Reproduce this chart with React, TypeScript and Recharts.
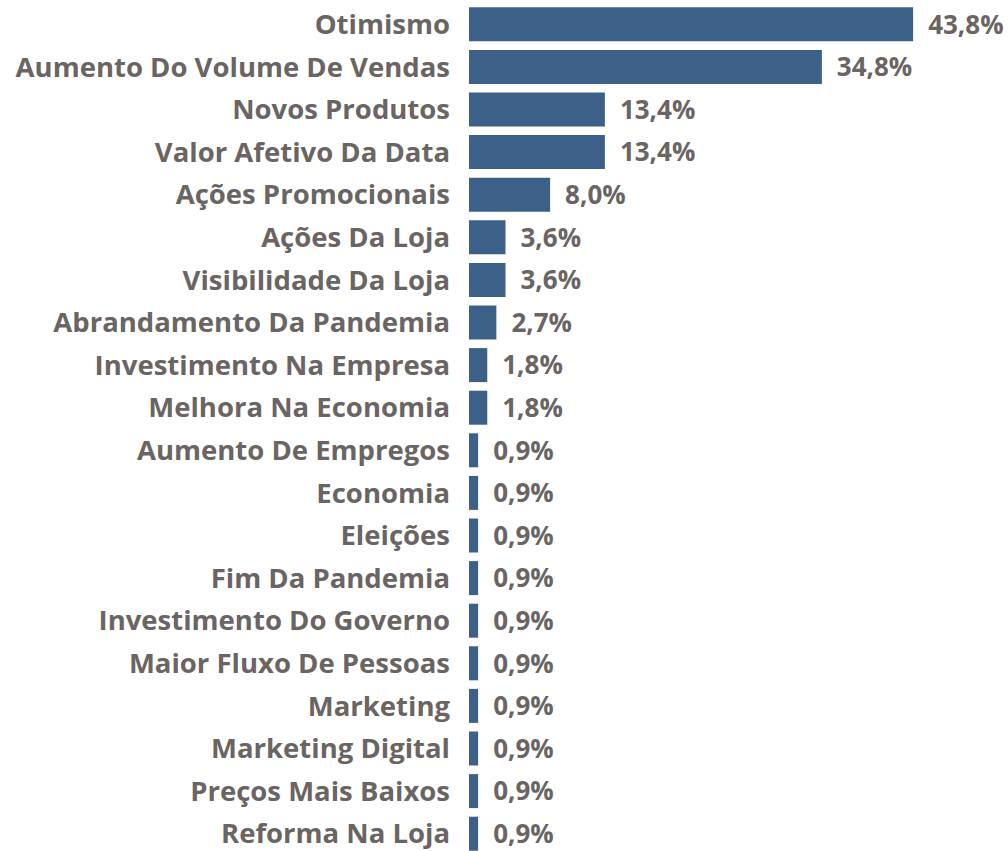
import { BarChart, Bar, XAxis, YAxis, LabelList } from 'recharts'

const categories = [
  'Otimismo',
  'Aumento Do Volume De Vendas',
  'Novos Produtos',
  'Valor Afetivo Da Data',
  'Ações Promocionais',
  'Ações Da Loja',
  'Visibilidade Da Loja',
  'Abrandamento Da Pandemia',
  'Investimento Na Empresa',
  'Melhora Na Economia',
  'Aumento De Empregos',
  'Economia',
  'Eleições',
  'Fim Da Pandemia',
  'Investimento Do Governo',
  'Maior Fluxo De Pessoas',
  'Marketing',
  'Marketing Digital',
  'Preços Mais Baixos',
  'Reforma Na Loja',
]

const shares = [43.8, 34.8, 13.4, 13.4, 8.0, 3.6, 3.6, 2.7, 1.8, 1.8, 0.9, 0.9, 0.9, 0.9, 0.9, 0.9, 0.9, 0.9, 0.9, 0.9]

const data = categories.map((name, i) => ({ name, value: shares[i] }))

const TEXT = '#6a6563'
const BAR = '#3d6089'
const FONT = '"Open Sans", "Noto Sans", sans-serif'

const fmt = (v: number) => `${v.toFixed(1).replace('.', ',')}%`

export default function App() {
  return (
    <div style={{ position: 'absolute', left: 0, top: 0, fontFamily: FONT }}>
      <BarChart
        width={1008}
        height={860}
        data={data}
        layout="vertical"
        margin={{ top: 3, right: 32, bottom: 5, left: 0 }}
        barCategoryGap={4.3}
      >
        <XAxis type="number" domain={[0, 50]} hide />
        <YAxis
          type="category"
          dataKey="name"
          width={469}
          axisLine={false}
          tickLine={false}
          tickSize={0}
          tickMargin={19}
          interval={0}
          tick={{ fill: TEXT, fontSize: 27.5, fontWeight: 700, fontFamily: FONT }}
        />
        <Bar dataKey="value" fill={BAR} isAnimationActive={false}>
          <LabelList
            dataKey="value"
            position="right"
            offset={15}
            formatter={(v: number) => fmt(v)}
            fill={TEXT}
            fontSize={26}
            fontWeight={700}
            fontFamily={FONT}
          />
        </Bar>
      </BarChart>
    </div>
  )
}
